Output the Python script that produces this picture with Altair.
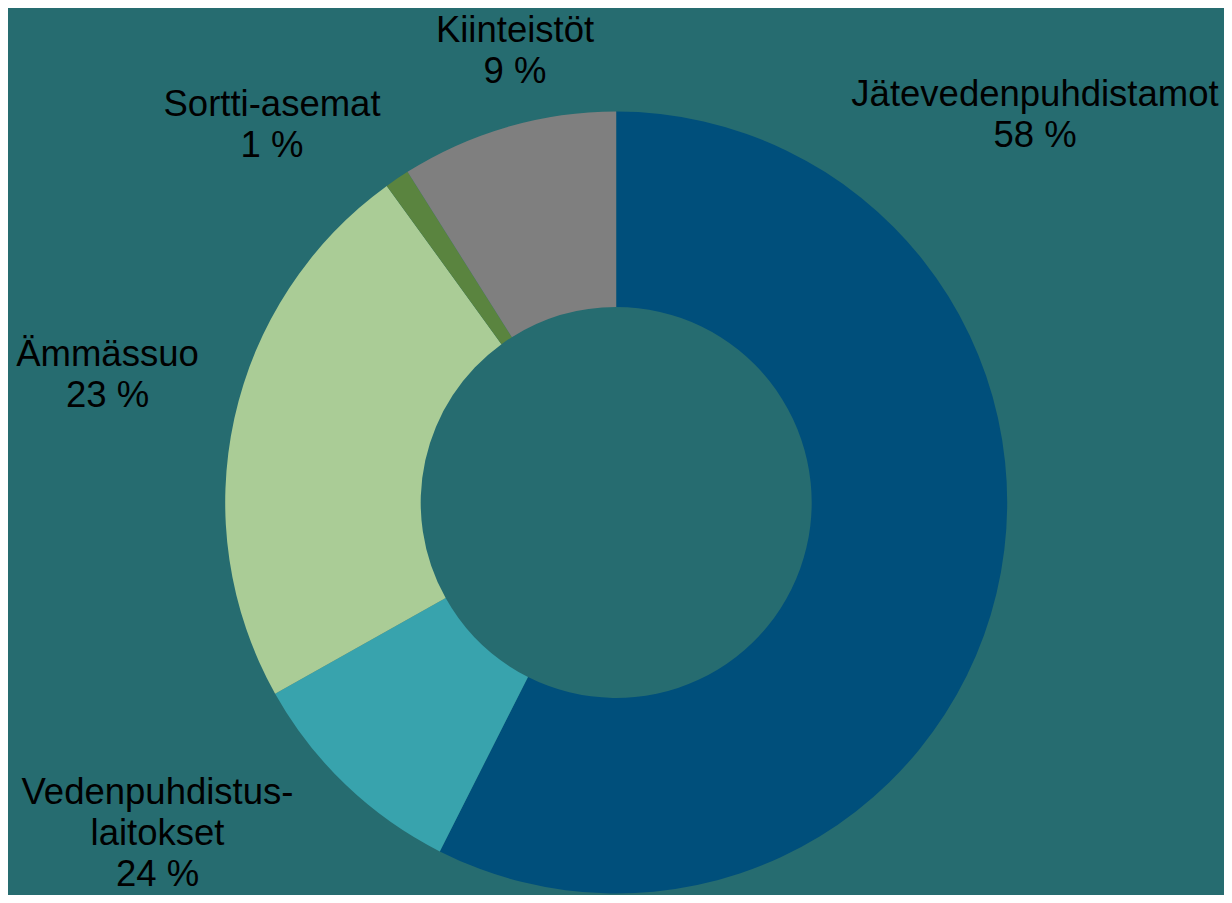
import altair as alt
import pandas as pd

# Slices (clockwise from top), sizes as drawn in the picture
categories = ["Jätevedenpuhdistamot", "Vedenpuhdistuslaitokset", "Ämmässuo", "Sortti-asemat", "Kiinteistöt"]
slice_values = [57.45, 9.42, 23.15, 1.02, 8.96]
colors = ["#004F7B", "#38A3AD", "#AACC96", "#5A843F", "#7F7F7F"]

# Data labels as printed on the chart
label_texts = [
    "Jätevedenpuhdistamot\n58 %",
    "Vedenpuhdistus-\nlaitokset\n24 %",
    "Ämmässuo\n23 %",
    "Sortti-asemat\n1 %",
    "Kiinteistöt\n9 %",
]
label_x = [1027, 149.5, 99.5, 264, 507]
label_y = [98, 796, 358, 108, 34]

W, H = 1216, 887
BG = "#266C70"

df = pd.DataFrame({"cat": categories, "value": slice_values, "order": list(range(len(categories)))})
ldf = pd.DataFrame({"text": label_texts, "lx": label_x, "ly": label_y})

arcs = alt.Chart(df).mark_arc(outerRadius=391, innerRadius=195.5).encode(
    theta=alt.Theta("value:Q", stack=True),
    color=alt.Color("cat:N", scale=alt.Scale(domain=categories, range=colors), legend=None),
    order=alt.Order("order:Q"),
    x=alt.value(608.2),
    y=alt.value(494.5),
)

labels = alt.Chart(ldf).mark_text(
    fontSize=36.5, font="Liberation Sans", lineBreak="\n", lineHeight=41,
    baseline="alphabetic", align="center", color="black",
).encode(
    x=alt.X("lx:Q", scale=alt.Scale(domain=[0, W], range=[0, W]), axis=None),
    y=alt.Y("ly:Q", scale=alt.Scale(domain=[0, H], range=[0, H]), axis=None),
    text="text:N",
)

chart = alt.layer(arcs, labels).properties(
    width=W, height=H, padding=0, autosize="none", background=BG,
).configure_view(stroke=None)

chart.save("out.html", embed_options={"renderer": "svg", "actions": False})
